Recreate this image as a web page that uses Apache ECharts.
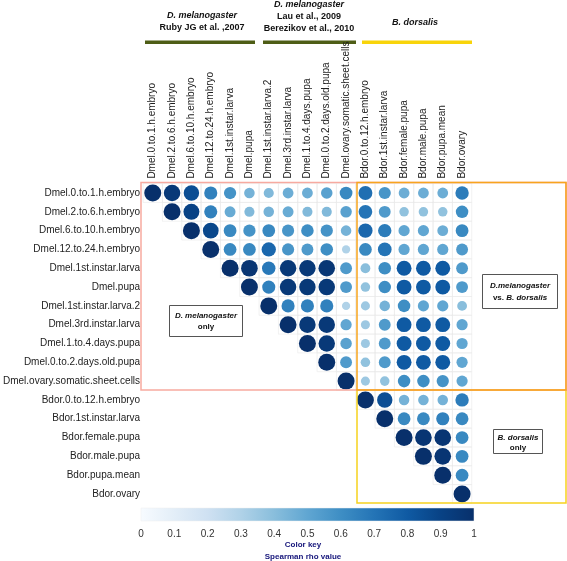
<!DOCTYPE html>
<html>
<head>
<meta charset="utf-8">
<script src="https://cdn.jsdelivr.net/npm/echarts@6/dist/echarts.min.js"></script>
<style>
html,body{margin:0;padding:0;background:#fff;}
#chart{width:567px;height:561px;}
</style>
</head>
<body>
<div id="chart"></div>
<script>
// Sample names (rows and columns of the correlation matrix)
const sampleNames = [
  'Dmel.0.to.1.h.embryo','Dmel.2.to.6.h.embryo','Dmel.6.to.10.h.embryo','Dmel.12.to.24.h.embryo',
  'Dmel.1st.instar.larva','Dmel.pupa','Dmel.1st.instar.larva.2','Dmel.3rd.instar.larva',
  'Dmel.1.to.4.days.pupa','Dmel.0.to.2.days.old.pupa','Dmel.ovary.somatic.sheet.cells',
  'Bdor.0.to.12.h.embryo','Bdor.1st.instar.larva','Bdor.female.pupa','Bdor.male.pupa',
  'Bdor.pupa.mean','Bdor.ovary'
];

// Upper-triangle Spearman rho values, each row starts at the diagonal
const rhoRow01 = [1, 0.95, 0.85, 0.65, 0.58, 0.45, 0.42, 0.47, 0.47, 0.52, 0.62, 0.72, 0.57, 0.47, 0.47, 0.47, 0.67];
const rhoRow02 = [1, 0.90, 0.65, 0.48, 0.42, 0.45, 0.48, 0.42, 0.42, 0.52, 0.70, 0.55, 0.38, 0.38, 0.38, 0.60];
const rhoRow03 = [1, 0.88, 0.62, 0.58, 0.62, 0.57, 0.60, 0.58, 0.45, 0.75, 0.67, 0.50, 0.50, 0.47, 0.62];
const rhoRow04 = [1, 0.62, 0.62, 0.75, 0.57, 0.55, 0.60, 0.30, 0.62, 0.70, 0.50, 0.50, 0.50, 0.55];
const rhoRow05 = [1, 0.97, 0.68, 0.95, 0.95, 0.96, 0.55, 0.40, 0.60, 0.80, 0.80, 0.80, 0.55];
const rhoRow06 = [1, 0.65, 0.95, 0.95, 0.95, 0.55, 0.38, 0.60, 0.80, 0.80, 0.80, 0.55];
const rhoRow07 = [1, 0.65, 0.65, 0.65, 0.30, 0.35, 0.45, 0.60, 0.50, 0.50, 0.40];
const rhoRow08 = [1, 0.95, 0.95, 0.50, 0.35, 0.55, 0.80, 0.80, 0.80, 0.50];
const rhoRow09 = [1, 0.95, 0.52, 0.35, 0.55, 0.80, 0.80, 0.80, 0.50];
const rhoRow10 = [1, 0.55, 0.38, 0.55, 0.80, 0.80, 0.80, 0.50];
const rhoRow11 = [1, 0.35, 0.38, 0.60, 0.60, 0.58, 0.50];
const rhoRow12 = [1, 0.85, 0.45, 0.45, 0.45, 0.67];
const rhoRow13 = [1, 0.62, 0.62, 0.65, 0.62];
const rhoRow14 = [1, 0.97, 0.97, 0.62];
const rhoRow15 = [1, 0.97, 0.62];
const rhoRow16 = [1, 0.62];
const rhoRow17 = [1];

// Colour key ticks
const keyTicks = [0, 0.1, 0.2, 0.3, 0.4, 0.5, 0.6, 0.7, 0.8, 0.9, 1];
const bluesPalette = ['#f7fbff','#e3eef8','#cfe1f2','#b0d2e8','#89bedc','#60a6d2','#3e8ec4','#2474b6','#0f5aa3','#084285','#08306b'];

const rhoRows = [rhoRow01,rhoRow02,rhoRow03,rhoRow04,rhoRow05,rhoRow06,rhoRow07,rhoRow08,rhoRow09,rhoRow10,rhoRow11,rhoRow12,rhoRow13,rhoRow14,rhoRow15,rhoRow16,rhoRow17];

const circleData = [];
const cellData = [];
rhoRows.forEach((row, i) => {
  row.forEach((v, k) => {
    const j = i + k;
    circleData.push([j, i, v]);
    cellData.push([j, i]);
  });
});

const chart = echarts.init(document.getElementById('chart'), null, {renderer: 'canvas'});

const gridL = 140.25, gridT = 183.6, gridW = 331.5, gridH = 319.8;
const keyL = 141, keyT = 508, keyW = 333, keyH = 13;

const bold9 = '#111';
const option = {
  backgroundColor: '#fff',
  animation: false,
  grid: [
    {left: gridL, top: gridT, width: gridW, height: gridH},
    {left: keyL, top: keyT, width: keyW, height: keyH}
  ],
  xAxis: [
    {
      type: 'category', gridIndex: 0, data: sampleNames, position: 'top',
      axisLine: {show: false}, axisTick: {show: false}, splitLine: {show: false},
      axisLabel: {rotate: -90, interval: 0, fontSize: 10, color: '#222', margin: 5, fontFamily: 'Liberation Sans'}
    },
    {
      type: 'value', gridIndex: 1, min: 0, max: 1, interval: 0.1, position: 'bottom',
      axisLine: {show: false}, axisTick: {show: false}, splitLine: {show: false},
      axisLabel: {fontSize: 10, color: '#333', margin: 8, fontFamily: 'Liberation Sans',
        formatter: v => (v === 0 ? '0' : (Math.abs(v - 1) < 1e-9 ? '1' : v.toFixed(1)))}
    }
  ],
  yAxis: [
    {
      type: 'category', gridIndex: 0, data: sampleNames, inverse: true,
      axisLine: {show: false}, axisTick: {show: false}, splitLine: {show: false},
      axisLabel: {interval: 0, fontSize: 10, color: '#222', margin: 3, fontFamily: 'Liberation Sans'}
    },
    {type: 'value', gridIndex: 1, show: false, min: 0, max: 1}
  ],
  visualMap: {
    show: false, type: 'continuous', min: 0, max: 1, dimension: 2, seriesIndex: 1,
    inRange: {color: bluesPalette}
  },
  series: [
    {
      type: 'custom', xAxisIndex: 0, yAxisIndex: 0, data: cellData, silent: true, z: 1,
      renderItem: (params, api) => {
        const p = api.coord([api.value(0), api.value(1)]);
        const s = api.size([1, 1]);
        return {type: 'rect', shape: {x: p[0] - s[0] / 2, y: p[1] - s[1] / 2, width: s[0], height: s[1]},
          style: {fill: null, stroke: '#e9e9e9', lineWidth: 0.6}};
      }
    },
    {
      type: 'scatter', xAxisIndex: 0, yAxisIndex: 0, data: circleData, z: 3,
      symbol: 'circle',
      symbolSize: d => 17 * Math.pow(d[2], 0.6),
      itemStyle: {opacity: 1}
    },
    {type: 'scatter', xAxisIndex: 1, yAxisIndex: 1, data: [], silent: true}
  ],
  graphic: [
    // colour key bar
    {type: 'rect', shape: {x: keyL, y: keyT, width: keyW, height: keyH}, z: 0,
      style: {fill: new echarts.graphic.LinearGradient(0, 0, 1, 0,
        bluesPalette.map((c, i) => ({offset: keyTicks[i], color: c}))), stroke: '#eeeeee', lineWidth: 0.5}},
    {type: 'text', x: 303, y: 545, style: {text: 'Color key', fill: '#14147a', font: 'bold 8px "Liberation Sans"', textAlign: 'center', textVerticalAlign: 'middle'}},
    {type: 'text', x: 303, y: 557, style: {text: 'Spearman rho value', fill: '#14147a', font: 'bold 8px "Liberation Sans"', textAlign: 'center', textVerticalAlign: 'middle'}},
    // region boxes
    {type: 'rect', shape: {x: 357, y: 390, width: 209, height: 113}, z: 10, style: {fill: null, stroke: '#f6d21e', lineWidth: 1.5}},
    {type: 'rect', shape: {x: 141, y: 182.5, width: 425, height: 207.5}, z: 10, style: {fill: null, stroke: '#f7aaa0', lineWidth: 1.5}},
    {type: 'rect', shape: {x: 357, y: 182.5, width: 209, height: 207.5}, z: 11, style: {fill: null, stroke: '#f7a51e', lineWidth: 1.5}},
    // header bars
    {type: 'rect', shape: {x: 145, y: 40.5, width: 110, height: 3.5}, style: {fill: '#4e5d16'}},
    {type: 'rect', shape: {x: 263, y: 40.5, width: 93, height: 3.5}, style: {fill: '#4e5d16'}},
    {type: 'rect', shape: {x: 362, y: 40.5, width: 110, height: 3.5}, style: {fill: '#f8d40a'}},
    // header texts
    {type: 'text', x: 202, y: 16, style: {text: 'D. melanogaster', fill: bold9, font: 'italic bold 9px "Liberation Sans"', textAlign: 'center', textVerticalAlign: 'middle'}},
    {type: 'text', x: 202, y: 27.5, style: {text: 'Ruby JG et al. ,2007', fill: bold9, font: 'bold 9px "Liberation Sans"', textAlign: 'center', textVerticalAlign: 'middle'}},
    {type: 'text', x: 309, y: 4.5, style: {text: 'D. melanogaster', fill: bold9, font: 'italic bold 9px "Liberation Sans"', textAlign: 'center', textVerticalAlign: 'middle'}},
    {type: 'text', x: 309, y: 16.5, style: {text: 'Lau et al., 2009', fill: bold9, font: 'bold 9px "Liberation Sans"', textAlign: 'center', textVerticalAlign: 'middle'}},
    {type: 'text', x: 309, y: 29, style: {text: 'Berezikov et al., 2010', fill: bold9, font: 'bold 9px "Liberation Sans"', textAlign: 'center', textVerticalAlign: 'middle'}},
    {type: 'text', x: 415, y: 22.5, style: {text: 'B. dorsalis', fill: bold9, font: 'italic bold 9px "Liberation Sans"', textAlign: 'center', textVerticalAlign: 'middle'}},
    // annotation boxes
    {type: 'rect', shape: {x: 169.5, y: 305.5, width: 73, height: 31}, z: 12, style: {fill: '#fff', stroke: '#555', lineWidth: 1}},
    {type: 'text', x: 206, y: 316, z: 13, style: {text: 'D. melanogaster', fill: bold9, font: 'italic bold 8px "Liberation Sans"', textAlign: 'center', textVerticalAlign: 'middle'}},
    {type: 'text', x: 206, y: 327, z: 13, style: {text: 'only', fill: bold9, font: 'bold 8px "Liberation Sans"', textAlign: 'center', textVerticalAlign: 'middle'}},
    {type: 'rect', shape: {x: 482.5, y: 274.5, width: 75, height: 34}, z: 12, style: {fill: '#fff', stroke: '#555', lineWidth: 1}},
    {type: 'text', x: 520, y: 286, z: 13, style: {text: 'D.melanogaster', fill: bold9, font: 'italic bold 8px "Liberation Sans"', textAlign: 'center', textVerticalAlign: 'middle'}},
    {type: 'text', x: 520, y: 297.5, z: 13, style: {
      text: '{n|vs. }{i|B. dorsalis}', textAlign: 'center', textVerticalAlign: 'middle',
      rich: {n: {fill: bold9, font: 'bold 8px "Liberation Sans"'}, i: {fill: bold9, font: 'italic bold 8px "Liberation Sans"'}}}},
    {type: 'rect', shape: {x: 493.5, y: 429.5, width: 49, height: 24}, z: 12, style: {fill: '#fff', stroke: '#555', lineWidth: 1}},
    {type: 'text', x: 518, y: 437.5, z: 13, style: {text: 'B. dorsalis', fill: bold9, font: 'italic bold 8px "Liberation Sans"', textAlign: 'center', textVerticalAlign: 'middle'}},
    {type: 'text', x: 518, y: 447.5, z: 13, style: {text: 'only', fill: bold9, font: 'bold 8px "Liberation Sans"', textAlign: 'center', textVerticalAlign: 'middle'}}
  ]
};
chart.setOption(option);
</script>
</body>
</html>
